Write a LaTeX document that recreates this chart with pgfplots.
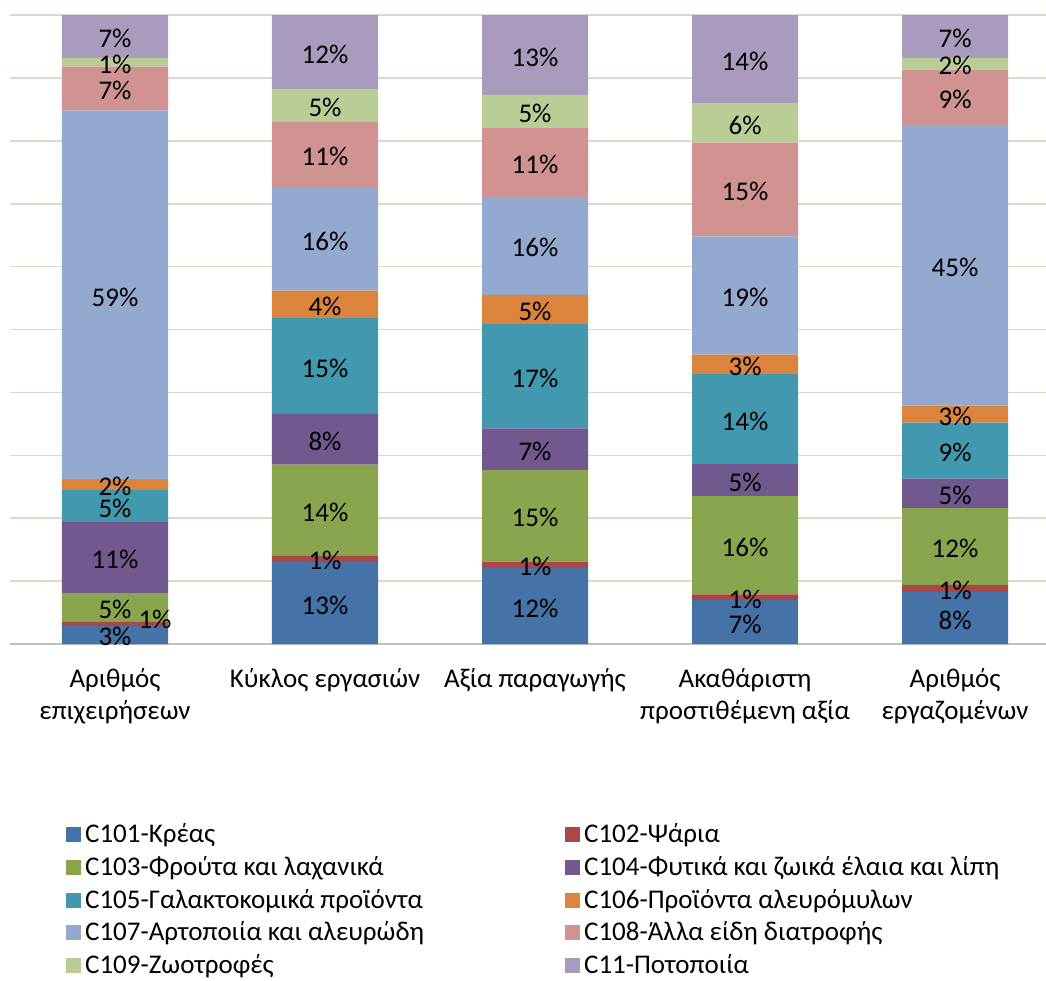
\documentclass[border=0pt]{standalone}
\usepackage{pgfplots}
\pgfplotsset{compat=1.18}
\usepackage{pgfplotstable}
\usepackage{fontspec}
\setmainfont{Carlito}

\definecolor{c101}{HTML}{4572A7}
\definecolor{c102}{HTML}{AA4643}
\definecolor{c103}{HTML}{89A54E}
\definecolor{c104}{HTML}{71588F}
\definecolor{c105}{HTML}{4198AF}
\definecolor{c106}{HTML}{DB843D}
\definecolor{c107}{HTML}{93A9CF}
\definecolor{c108}{HTML}{D19392}
\definecolor{c109}{HTML}{B9CD96}
\definecolor{c11}{HTML}{A99BBD}
\definecolor{gridc}{HTML}{DDD9C4}

% share of each sector, per indicator (%)
\pgfplotstableread{
x c101 c102 c103 c104 c105 c106 c107 c108 c109 c11 dx dy
0 2.9  0.6  4.6  11.3 5.1  1.7  58.6 7.0  1.4  6.8  20 3
1 13.0 1.1  14.4 8.1  15.2 4.4  16.3 10.6 5.1  11.8 0  0
2 12.1 1.0  14.6 6.6  16.6 4.6  15.6 10.9 5.3  12.7 0  0
3 7.0  0.9  15.6 5.1  14.3 3.1  18.8 14.9 6.2  14.1 0  0
4 8.3  1.1  12.2 4.7  8.9  2.7  44.6 8.8  1.9  6.8  0  0
}\shares

\newcommand{\lbl}{\fontsize{13.5}{16}\selectfont}

\begin{document}
\begin{tikzpicture}
\begin{axis}[
  name=ax,
  scale only axis,
  width=518pt, height=314.5pt,
  ybar stacked,
  bar width=0.505,
  xmin=-0.5, xmax=4.433,
  ymin=0, ymax=100,
  xtick={0,...,4},
  xticklabels={{Αριθμός\\επιχειρήσεων},{Κύκλος εργασιών},{Αξία παραγωγής},{Ακαθάριστη\\προστιθέμενη αξία},{Αριθμός\\εργαζομένων}},
  xticklabel style={align=center, font=\lbl, yshift=-8.5pt},
  ytick={0,10,...,100},
  yticklabels={},
  ymajorgrids,
  grid style={color=gridc, line width=0.8pt},
  axis lines*=left,
  x axis line style={color=black!25, line width=1pt, -},
  y axis line style={draw=none},
  tick style={draw=none},
  /pgf/number format/assume math mode=true,
  nodes near coords={\pgfmathprintnumber[fixed,precision=0]{\pgfplotspointmeta}\%},
  every node near coord/.append style={font=\lbl, color=black, anchor=center, yshift=-1pt},
  legend columns=2,
  legend cell align=left,
  legend style={draw=none, font=\lbl, at={(0.048,-0.272)}, anchor=north west,
    /tikz/every even column/.append style={column sep=0pt},
    row sep=1.4pt},
  legend image code/.code={\fill[#1] (0pt,-3.75pt) rectangle (7.5pt,3.75pt);},
]
\addplot[fill=c101, draw=none] table[x=x, y=c101] {\shares};
\addplot[fill=c102, draw=none,
  visualization depends on={\thisrow{dx} \as \dx},
  visualization depends on={\thisrow{dy} \as \dy},
  every node near coord/.append style={xshift=\dx pt, yshift=\dy pt}] table[x=x, y=c102] {\shares};
\addplot[fill=c103, draw=none] table[x=x, y=c103] {\shares};
\addplot[fill=c104, draw=none] table[x=x, y=c104] {\shares};
\addplot[fill=c105, draw=none] table[x=x, y=c105] {\shares};
\addplot[fill=c106, draw=none] table[x=x, y=c106] {\shares};
\addplot[fill=c107, draw=none] table[x=x, y=c107] {\shares};
\addplot[fill=c108, draw=none] table[x=x, y=c108] {\shares};
\addplot[fill=c109, draw=none] table[x=x, y=c109] {\shares};
\addplot[fill=c11, draw=none] table[x=x, y=c11] {\shares};
\legend{\makebox[238pt][l]{C101-Κρέας}, C102-Ψάρια,
  \makebox[238pt][l]{C103-Φρούτα και λαχανικά}, C104-Φυτικά και ζωικά έλαια και λίπη,
  \makebox[238pt][l]{C105-Γαλακτοκομικά προϊόντα}, C106-Προϊόντα αλευρόμυλων,
  \makebox[238pt][l]{C107-Αρτοποιία και αλευρώδη}, C108-Άλλα είδη διατροφής,
  \makebox[238pt][l]{C109-Ζωοτροφές}, C11-Ποτοποιία}
\end{axis}
\pgfresetboundingbox
\path ([xshift=-5pt,yshift=-168pt]ax.south west) rectangle ([yshift=7.5pt]ax.north east);
\end{tikzpicture}
\end{document}
